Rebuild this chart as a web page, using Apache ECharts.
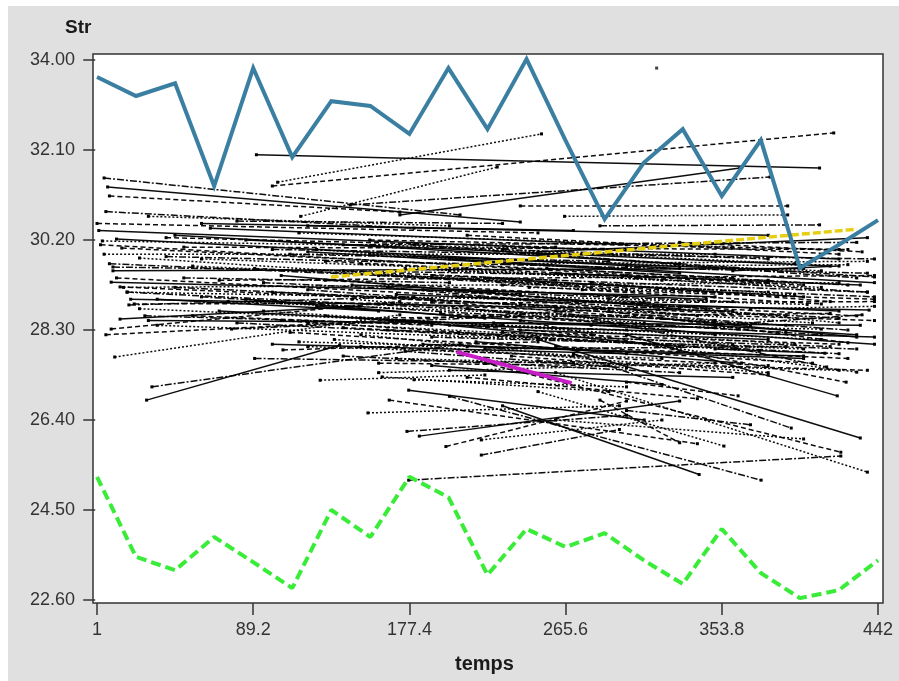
<!DOCTYPE html>
<html><head><meta charset="utf-8">
<script src="https://cdn.jsdelivr.net/npm/echarts@6/dist/echarts.min.js"></script>
<style>html,body{margin:0;padding:0;background:#fff;}#c{position:absolute;left:8px;top:6px;width:891px;height:675px;}</style>
</head><body><div id="c"></div>
<script>
// ---- data ----
const xTicks = [1, 89.2, 177.4, 265.6, 353.8, 442];
const yTicks = [22.6, 24.5, 26.4, 28.3, 30.2, 32.1, 34.0];
const timePoints = [1, 23.05, 45.1, 67.15, 89.2, 111.25, 133.3, 155.35, 177.4, 199.45, 221.5, 243.55, 265.6, 287.65, 309.7, 331.75, 353.8, 375.85, 397.9, 419.95, 442];
const maxSeries = [33.64, 33.24, 33.51, 31.34, 33.83, 31.95, 33.13, 33.03, 32.44, 33.83, 32.54, 34.02, 32.30, 30.64, 31.83, 32.54, 31.13, 32.31, 29.61, 30.10, 30.62];
const minSeries = [25.20, 23.51, 23.23, 23.93, 23.40, 22.85, 24.50, 23.93, 25.20, 24.77, 23.13, 24.10, 23.72, 24.01, 23.44, 22.94, 24.10, 23.17, 22.64, 22.81, 23.44];
const segX0 = [91,100,103,5,7,8,116,144,172,240,265,285,250,1,4,6,12,15,25,10,9,14,18,19,14,9,11,32,29,106,127,77,2,3,5,8,10,12,16,18,20,22,25,28,30,6,35,40,45,50,55,60,65,70,75,80,85,90,95,100,105,110,115,120,125,130,135,140,145,150,154,176,183,198,218,218,177,166,162,177,250,220,260,200,230,285,250,270,300,240,310,260,350,290,280,350,330,300,250,180,200,210,230,250,260,280,300,190,170,160,155,165,185,195,205,215,225,235,245,110,60,40,30,80,120,155,175,100,70,140,120,90,200,160,260,300,360,330,370,50,
  120,130,150,165,180,190,200,210,220,130,145,160,170,185,195,205,215,230,240,255,265,275,290,305,320,140,150,175,190,210,125,95,85,105,60,45,35,55,115,230,
  100,150,170,190,210,230,160,140,200,250,180,220,240,260,120];
const segY0 = [32.00,31.34,31.42,31.51,31.32,31.13,30.70,30.94,30.73,30.92,30.70,30.50,29.95,30.55,30.18,30.80,30.22,30.03,29.82,29.63,29.31,29.21,29.10,28.83,28.53,28.32,27.73,27.10,26.82,27.88,27.24,28.32,30.40,30.10,29.90,29.70,29.55,29.40,29.20,29.10,28.95,28.85,28.75,28.60,28.50,28.20,28.40,29.85,30.30,30.05,29.65,29.00,30.45,29.35,28.90,28.45,30.20,29.60,28.70,30.00,29.45,28.25,30.35,29.15,28.80,29.75,28.10,30.10,29.25,28.55,26.55,26.16,26.06,25.84,25.98,25.66,27.03,26.82,27.31,25.13,28.10,27.60,27.40,26.90,26.70,26.82,27.00,27.80,28.20,28.50,28.00,28.70,27.90,28.70,28.40,28.40,28.80,27.20,29.00,30.10,29.80,30.30,29.70,29.90,29.50,29.30,29.65,29.45,29.05,28.85,29.90,28.30,28.00,28.65,28.25,29.10,28.45,27.75,29.20,29.90,30.55,30.25,30.70,30.60,30.50,30.20,29.60,29.10,28.70,28.35,27.95,27.70,27.45,27.60,26.40,26.60,29.55,30.15,28.75,29.40,
  29.95,29.35,29.70,29.20,29.85,28.90,29.55,28.75,29.40,28.60,28.95,29.45,28.50,29.15,30.05,29.00,28.05,29.25,28.85,29.60,28.60,29.15,28.95,29.40,28.55,29.55,28.20,27.85,27.55,27.30,30.00,29.30,28.95,28.50,29.80,29.20,28.95,28.60,28.05,30.00,
  28.00,27.95,27.70,28.15,27.95,28.25,27.40,27.75,28.40,27.65,27.25,27.90,28.30,27.95,28.45];
const segX1 = [409,417,252,206,240,172,227,381,364,391,391,409,436,250,300,180,330,360,280,300,350,390,310,180,149,172,172,206,138,250,220,240,420,380,350,440,400,430,420,390,360,440,410,300,432,320,400,436,330,425,380,410,300,440,350,420,415,370,395,440,330,405,360,425,440,400,380,430,345,415,296,300,330,300,320,296,310,340,290,421,432,421,436,376,341,330,355,393,419,424,430,413,412,425,410,433,437,363,402,430,440,420,436,440,432,415,425,436,420,440,410,415,400,390,375,360,350,380,395,290,270,260,200,230,380,420,410,260,230,300,320,270,360,290,400,370,420,433,440,200,
  330,300,320,340,360,370,380,350,400,280,310,300,330,345,395,420,365,410,405,425,430,440,420,436,430,260,270,300,320,340,240,240,220,250,210,190,160,190,270,380,
  300,380,420,430,400,420,350,330,440,436,300,390,380,425,360];
const segY1 = [31.72,32.46,32.44,30.73,30.58,30.79,31.74,31.53,31.72,30.92,30.73,30.52,30.25,30.35,30.00,30.45,29.60,29.40,29.20,29.45,29.00,28.60,28.90,29.00,28.80,28.90,28.62,28.00,27.98,28.05,27.35,28.60,29.80,29.30,29.90,29.00,29.60,28.60,29.30,28.40,28.70,28.90,28.10,28.30,28.40,28.80,27.90,29.50,29.70,30.00,29.10,28.20,30.10,29.45,28.50,27.80,29.65,29.05,28.00,29.80,28.75,27.60,30.05,28.30,28.00,29.25,27.40,30.15,28.95,28.65,26.70,26.50,26.80,26.80,26.40,26.20,26.40,25.90,27.00,25.64,26.02,25.72,25.30,25.13,25.25,25.92,25.85,26.23,26.91,27.20,27.41,27.52,27.81,28.03,28.32,28.62,28.72,26.91,28.84,29.40,29.30,29.90,29.75,29.42,29.25,28.90,29.68,29.10,28.70,28.50,29.55,27.95,27.70,28.25,27.85,28.90,28.35,27.35,29.05,29.75,30.40,30.05,30.50,30.55,30.30,30.00,29.20,28.80,28.40,28.05,27.70,27.60,27.30,27.55,26.00,26.30,29.65,29.95,28.80,29.30,
  29.50,29.00,29.35,28.60,29.60,28.40,29.35,28.20,29.00,28.20,28.45,29.15,27.95,28.75,29.70,28.55,27.60,28.85,28.45,29.25,28.20,28.95,28.45,29.10,28.15,29.35,27.75,27.50,27.15,26.85,29.70,29.05,28.55,28.15,29.60,28.95,28.70,28.40,27.90,29.80,
  27.80,27.55,27.45,27.90,27.75,28.00,27.60,27.40,28.15,27.45,27.10,27.95,28.10,27.70,28.00];
const yellowX = [133, 430];
const yellowY = [29.42, 30.43];
const magentaX = [204, 269];
const magentaY = [27.84, 27.18];
const loneX = [317];
const loneY = [33.83];

// ---- chart ----
const pairs = (xs, ys) => xs.map((x, i) => [x, ys[i]]);
const dashKinds = ['solid', [5, 3], [2, 2], [7, 2, 2, 2]];
const FONT = "'Liberation Sans', Arial, sans-serif";
const series = [];
for (let i = 0; i < segX0.length; i++) {
  series.push({
    type: 'line', silent: true, animation: false,
    data: [[segX0[i], segY0[i]], [segX1[i], segY1[i]]],
    symbol: 'rect', symbolSize: 3, showSymbol: true,
    itemStyle: { color: '#000' },
    lineStyle: { color: '#000', width: 1.5, type: dashKinds[i % 4], opacity: 0.95 },
    z: 2
  });
}
series.push({ type: 'scatter', silent: true, animation: false, data: pairs(loneX, loneY), symbol: 'rect', symbolSize: 3, itemStyle: { color: '#111' }, z: 2 });
series.push({ type: 'line', silent: true, animation: false, data: pairs(yellowX, yellowY), showSymbol: false,
  lineStyle: { color: '#e6cf12', width: 3.5, type: [8, 3] }, z: 3 });
series.push({ type: 'line', silent: true, animation: false, data: pairs(magentaX, magentaY), showSymbol: false,
  lineStyle: { color: '#c81ec8', width: 4 }, z: 3 });
series.push({ type: 'line', silent: true, animation: false, data: pairs(timePoints, maxSeries), showSymbol: false,
  lineStyle: { color: '#3a7fa1', width: 4, join: 'miter' }, z: 4 });
series.push({ type: 'line', silent: true, animation: false, data: pairs(timePoints, minSeries), showSymbol: false,
  lineStyle: { color: '#38ec38', width: 4, type: [10, 5] }, z: 4 });

const xMin = -1.26, xMax = 444.82, yMin = 22.537, yMax = 34.127;
const chart = echarts.init(document.getElementById('c'), null, { renderer: 'canvas' });
chart.setOption({
  backgroundColor: '#e0e0e0',
  animation: false,
  grid: { left: 85, top: 48, width: 790, height: 549, show: true, backgroundColor: '#ffffff', borderColor: '#333', borderWidth: 1.5 },
  xAxis: {
    type: 'value', min: xMin, max: xMax,
    axisLine: { show: false },
    splitLine: { show: false },
    axisTick: { show: true, length: 12, lineStyle: { color: '#333', width: 1.5 }, customValues: xTicks },
    axisLabel: { customValues: xTicks, margin: 18, fontSize: 18, color: '#333', fontFamily: FONT,
      formatter: v => String(v) }
  },
  yAxis: {
    type: 'value', min: yMin, max: yMax,
    axisLine: { show: false },
    splitLine: { show: false },
    axisTick: { show: true, length: 12, lineStyle: { color: '#333', width: 1.5 }, customValues: yTicks },
    axisLabel: { customValues: yTicks, margin: 18, fontSize: 18, color: '#333', fontFamily: FONT,
      formatter: v => Number(v).toFixed(2) }
  },
  graphic: [
    { type: 'text', left: 57, top: 12, style: { text: 'Str', font: "bold 19px 'Liberation Sans', Arial, sans-serif", fill: '#1a1a1a' } },
    { type: 'text', left: 447, top: 648, style: { text: 'temps', font: "bold 20px 'Liberation Sans', Arial, sans-serif", fill: '#1a1a1a' } }
  ],
  series: series
});
</script></body></html>
